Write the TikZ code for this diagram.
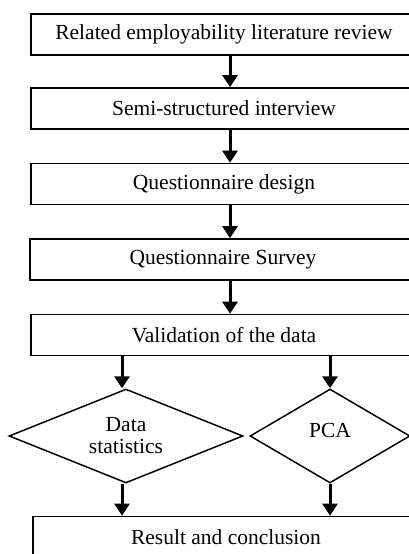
\documentclass[tikz,border=0pt]{standalone}
\usepackage{fontspec}
\setmainfont{Liberation Serif}
\usetikzlibrary{arrows.meta,shapes.geometric}
\tikzset{
  txt/.style={font=\fontsize{21.5}{22}\selectfont},
  stepbox/.style={draw, line width=1.6pt, rectangle, minimum width=386pt, minimum height=41pt, inner sep=0pt, txt},
  decision/.style={draw, line width=1.5pt, diamond, shape aspect=2.5, inner sep=0pt, align=center, txt},
  flow/.style={line width=3pt, -{Triangle[length=12pt,width=15pt]}}
}
\begin{document}
\begin{tikzpicture}[x=1pt,y=-1pt]
\useasboundingbox (0,0) rectangle (409,554);
\clip (0,0) rectangle (409,554);
\node[stepbox] (b1) at (224,34.5) {Related employability literature review};
\node[stepbox] (b2) at (224,108.5) {Semi-structured interview};
\node[stepbox] (b3) at (224,184) {Questionnaire design};
\node[stepbox] (b4) at (223,259.5) {Questionnaire Survey};
\node[stepbox] (b5) at (224,335) {Validation of the data};
\node[decision, minimum width=234pt, minimum height=94pt] (d1) at (126,436) {Data\\statistics};
\node[decision, minimum width=160pt, minimum height=94pt] (d2) at (330,436) {};
\node[txt, inner sep=0pt] (pca) at (330,430) {PCA};
\node[stepbox] (b6) at (226,537) {Result and conclusion};
\coordinate (ax) at (230,0);
\draw[flow] (b1.south -| ax) -- (b2.north -| ax);
\draw[flow] (b2.south -| ax) -- (b3.north -| ax);
\draw[flow] (b3.south -| ax) -- (b4.north -| ax);
\draw[flow] (b4.south -| ax) -- (b5.north -| ax);
\coordinate (lx) at (122,0);
\draw[flow] (b5.south -| lx) -- (d1.north -| lx);
\draw[flow] (b5.south -| d2.north) -- (d2.north);
\draw[flow] (d1.south -| lx) -- (b6.north -| lx);
\draw[flow] (d2.south) -- (b6.north -| d2.south);
\end{tikzpicture}
\end{document}
